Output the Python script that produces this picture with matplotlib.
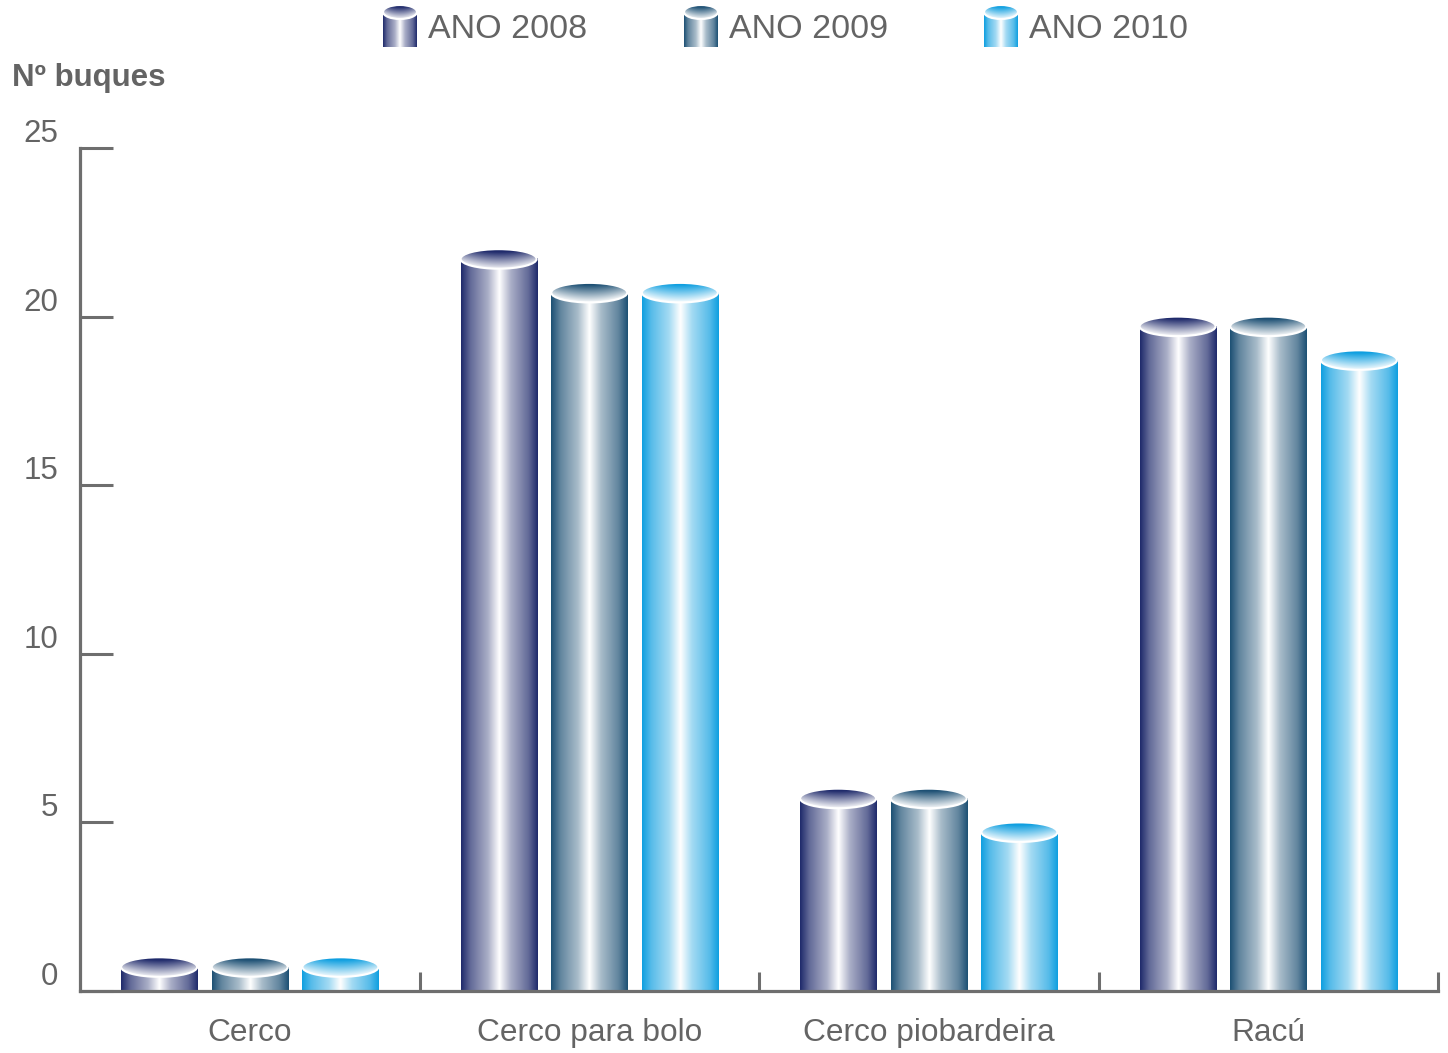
import numpy as np
import matplotlib.pyplot as plt
from matplotlib.patches import Ellipse
from matplotlib.colors import to_rgb
import matplotlib.transforms as mtransforms

categories = ["Cerco", "Cerco para bolo", "Cerco piobardeira", "Racú"]
series = ["ANO 2008", "ANO 2009", "ANO 2010"]
v2008 = [1, 22, 6, 20]
v2009 = [1, 21, 6, 20]
v2010 = [1, 21, 5, 19]
values = [v2008, v2009, v2010]
yticks = [0, 5, 10, 15, 20, 25]
colors = ["#1f2a6b", "#1d5074", "#0f9fe0"]

gray = "#6e6e6e"
txt = "#646464"

plt.rcParams['font.family'] = ['Liberation Sans', 'DejaVu Sans']
W, H = 1448, 1053
fig = plt.figure(figsize=(W / 100, H / 100), dpi=100)
ax = fig.add_axes([80 / W, (H - 991) / H, (1438 - 80) / W, (991 - 148) / H])
ax.set_xlim(0, len(categories))
ax.set_ylim(0, 25)


def side_shade(dark, n=200):
    s = np.linspace(0, 1, n)
    stops = [0, 0.12, 0.35, 0.5, 0.65, 0.88, 1]
    f = [0.0, 0.3, 0.62, 1.0, 0.62, 0.3, 0.0]
    w = np.interp(s, stops, f)
    d = np.array(to_rgb(dark))
    return (d[None, :] * (1 - w[:, None]) + w[:, None])[None, :, :]


def top_shade(dark, n=200, m=60):
    u = np.linspace(-1, 1, n)[None, :]
    vv = np.linspace(1, -1, m)[:, None]
    mix = np.clip(0.6 + 0.55 * vv - 0.35 * u ** 2, 0, 1)
    d = np.array(to_rgb(dark))
    return d[None, None, :] * mix[..., None] + (1 - mix[..., None])


def cylinder(a, x0, x1, top, ry, dark, y0=0, z=3):
    yc = top - ry
    a.imshow(side_shade(dark), extent=(x0, x1, y0, yc),
             aspect='auto', interpolation='bilinear', zorder=z)
    ell = Ellipse(((x0 + x1) / 2, yc), x1 - x0, 2 * ry, facecolor='none',
                  edgecolor='white', lw=1.5, zorder=z + 0.2)
    a.add_patch(ell)
    im = a.imshow(top_shade(dark), extent=(x0, x1, yc - ry, yc + ry),
                  aspect='auto', interpolation='bilinear', zorder=z + 0.1)
    im.set_clip_path(ell)


n = len(series)
bw = 0.224
step = 0.267
ry = 0.29
for j, (vals, c) in enumerate(zip(values, colors)):
    for i, v in enumerate(vals):
        xc = i + 0.5 + (j - (n - 1) / 2) * step
        cylinder(ax, xc - bw / 2, xc + bw / 2, v, ry, c)

ax.set_xlim(0, len(categories))
ax.set_ylim(0, 25)

for s in ["top", "right"]:
    ax.spines[s].set_visible(False)
for s in ["left", "bottom"]:
    ax.spines[s].set_color(gray)
    ax.spines[s].set_linewidth(2.3)
    ax.spines[s].set_zorder(5)

ax.set_yticks(yticks)
ax.set_xticks(np.arange(1, len(categories) + 1))
ax.tick_params(axis='y', direction='in', length=24, width=2.2, color=gray,
               labelleft=False)
ax.tick_params(axis='x', direction='in', length=14, width=2.2, color=gray,
               labelbottom=False)

ytr = mtransforms.blended_transform_factory(ax.transAxes, ax.transData)
yoff = mtransforms.ScaledTranslation(-0.22, 0.14, fig.dpi_scale_trans)
for v in yticks:
    ax.text(0, v, str(v), transform=ytr + yoff, ha='right', va='center',
            fontsize=22.5, color=txt)

xoff = mtransforms.ScaledTranslation(0, -0.42, fig.dpi_scale_trans)
for i, c in enumerate(categories):
    ax.text(i + 0.5, 0, c, transform=ax.transData + xoff, ha='center',
            va='center', fontsize=22.8, color=txt)

fig.text(12 / W, 1 - 78 / H, "Nº buques", fontweight='bold', fontsize=22.5,
         color=txt, va='center')

# legend drawn on an overlay in pixel units
lax = fig.add_axes([0, 0, 1, 1])
lax.set_xlim(0, W)
lax.set_ylim(0, H)
lax.axis('off')
icon_x = [383, 684, 984]
for x, name, c in zip(icon_x, series, colors):
    cylinder(lax, x, x + 34, H - 5, 7, c, y0=H - 47)
    lax.text(x + 45, H - 29, name, fontsize=24.5, color=txt, va='center')
lax.set_xlim(0, W)
lax.set_ylim(0, H)

fig.savefig("out.png", dpi=100)
